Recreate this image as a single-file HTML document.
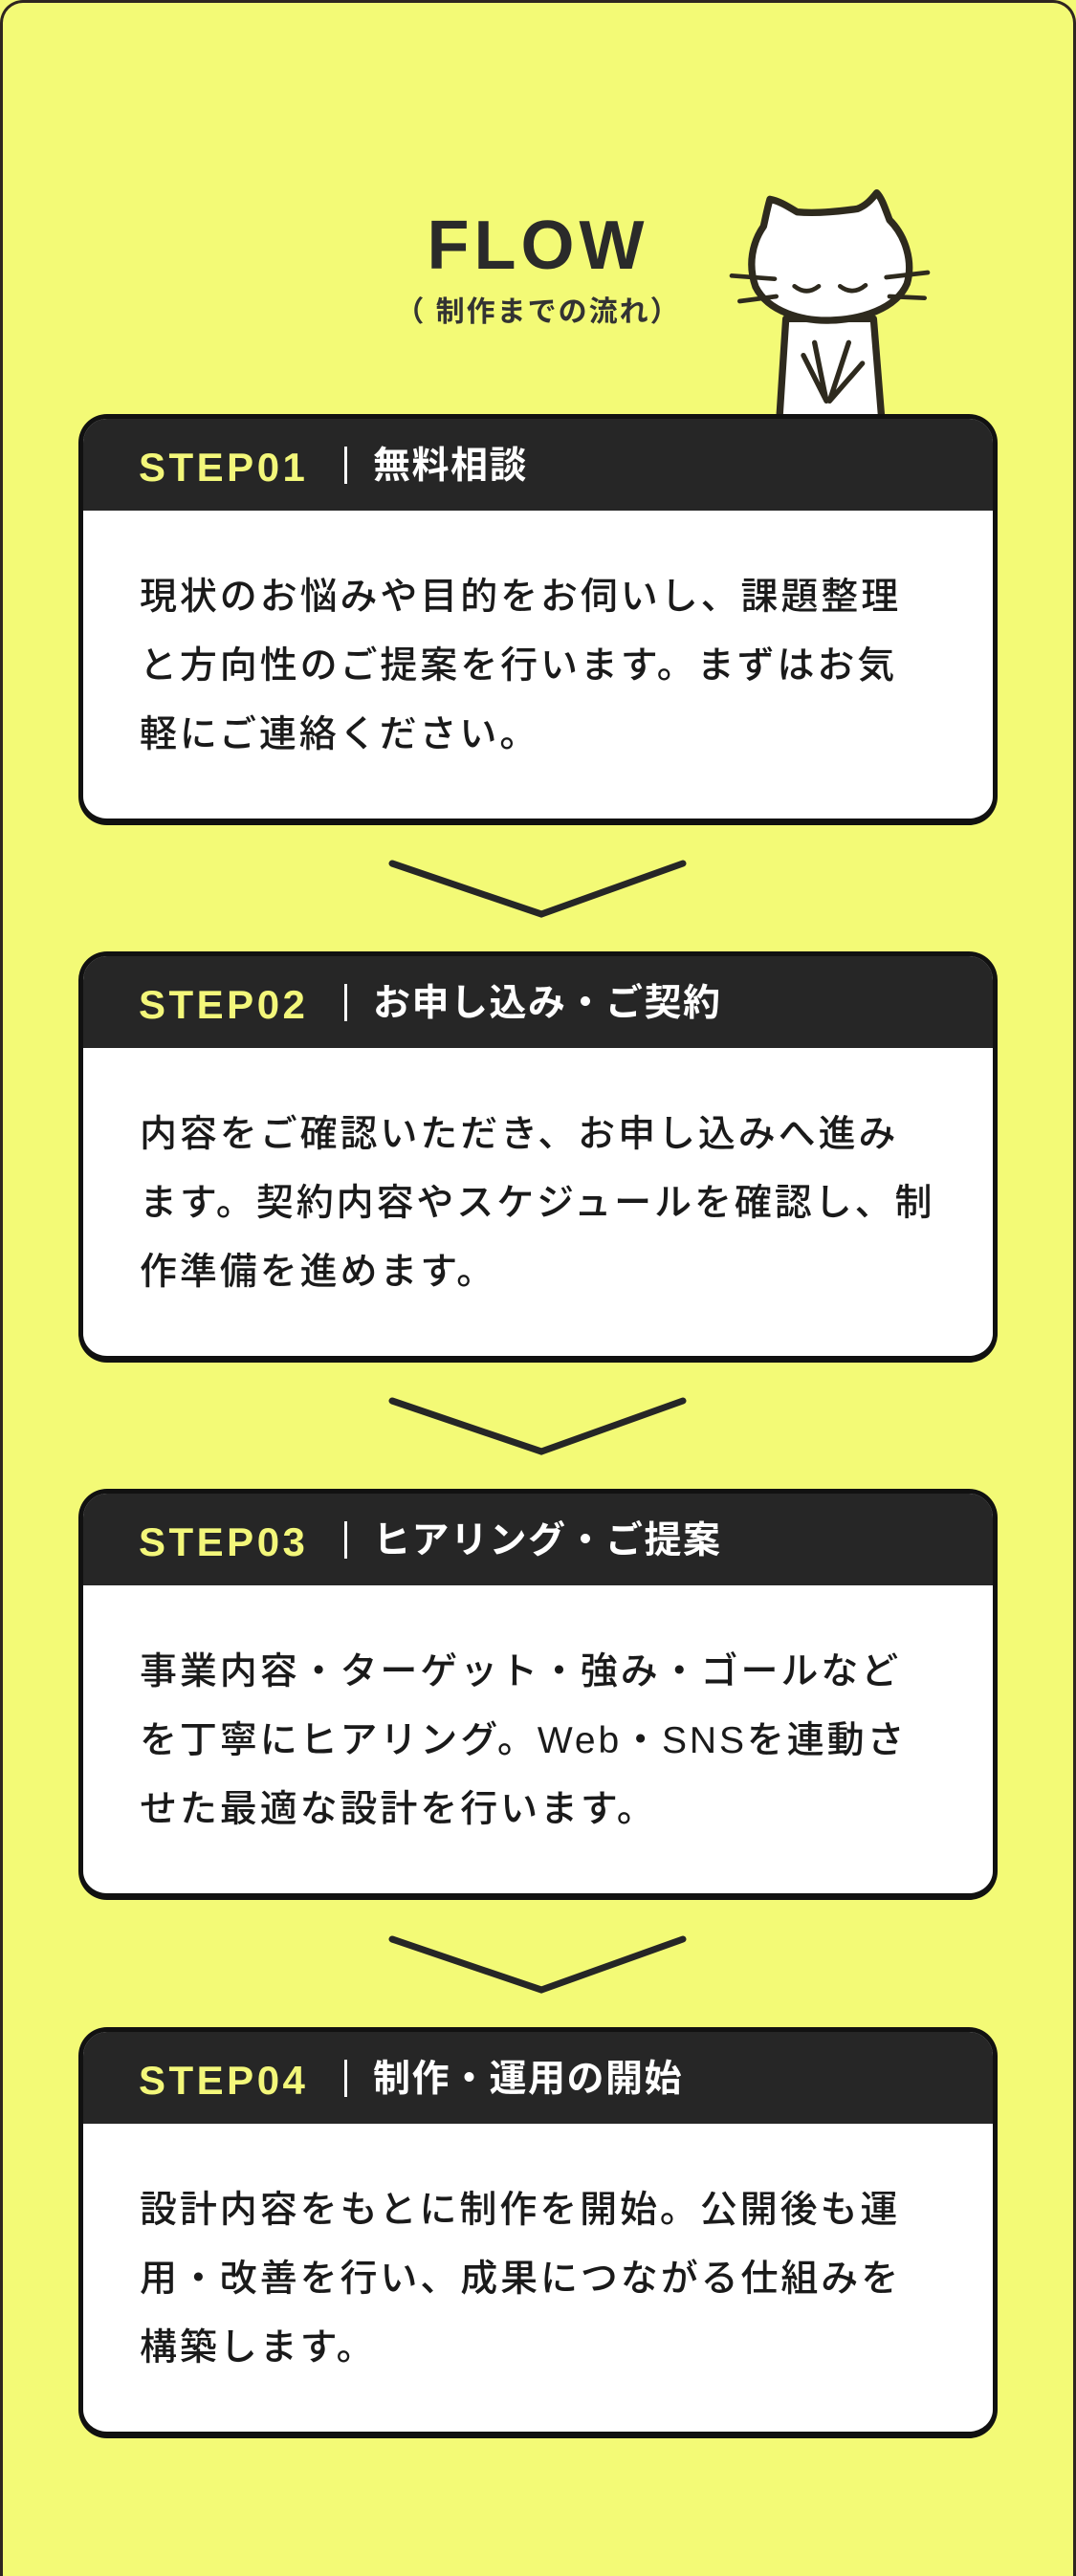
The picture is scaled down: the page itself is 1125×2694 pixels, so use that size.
<!DOCTYPE html>
<html><head><meta charset="utf-8">
<style>
*{margin:0;padding:0;box-sizing:border-box}
html,body{width:1125px;height:2694px;overflow:hidden;background:#f3fa76}
.frame{position:absolute;left:0;top:0;width:1125px;height:2694px;border:3px solid #2e2520;border-bottom:none;border-radius:24px 24px 0 0;background:#f3fa76}
.flow{position:absolute;left:0;width:1125px;top:212px;text-align:center;font-family:"Liberation Sans",sans-serif;font-weight:700;font-size:72px;letter-spacing:5px;color:#2a2a2a;line-height:90px}
.sub{position:absolute;left:0;width:1125px;top:305px;text-align:center;font-family:"Liberation Sans","Noto Sans CJK JP",sans-serif;font-weight:700;font-size:30px;color:#333;line-height:44px;letter-spacing:2px}
.card{position:absolute;left:82px;width:961px;height:430px;background:#fff;border:5px solid #111;border-bottom-width:7px;border-radius:30px;overflow:hidden}
.hd{position:absolute;left:0;top:0;right:0;height:96px;background:#262626}
.step{position:absolute;left:58px;top:26px;font-family:"Liberation Sans",sans-serif;font-weight:700;font-size:42px;letter-spacing:3.5px;color:#f3f77a;line-height:50px}
.bar{position:absolute;left:273px;top:29px;width:3px;height:39px;background:#fff}
.ttl{position:absolute;left:303px;top:22px;font-family:"Liberation Sans","Noto Sans CJK JP",sans-serif;font-weight:700;font-size:39px;letter-spacing:1.5px;color:#fff;line-height:56px;white-space:nowrap}
.bd{position:absolute;left:59px;top:151px;font-family:"Liberation Sans","Noto Sans CJK JP",sans-serif;font-weight:500;font-size:39px;letter-spacing:2.9px;line-height:72px;color:#1a1a1a;white-space:nowrap}
.chev{position:absolute;left:400px;width:330px;height:70px}
</style></head><body>
<div class="frame"></div>
<div class="flow">FLOW</div>
<div class="sub">（ 制作までの流れ）</div>

<svg style="position:absolute;left:740px;top:180px" width="260" height="260" viewBox="0 0 780 780">
<g stroke="#2e2a1e" stroke-width="22" stroke-linecap="round" stroke-linejoin="round">
<path d="M245 460 L225 770 L545 770 L520 460 Z" fill="#fff"/>
<path d="M195 85 C185 120 182 140 175 170 C140 220 125 290 150 360 C190 440 300 468 385 465 C480 462 590 430 625 350 C645 280 620 200 570 150 C555 110 545 80 530 65 C510 90 495 105 470 115 C400 125 330 130 280 125 C255 110 225 90 195 85 Z" fill="#fff"/>
<path d="M75 325 L210 335 M100 405 L215 390 M560 330 L690 315 M570 390 L680 395" fill="none" stroke-width="14"/>
<path d="M272 358 Q310 388 348 358 M415 358 Q455 388 495 355" fill="none" stroke-width="14"/>
<path d="M300 575 L372 718 L335 535 M442 535 L382 718 L485 600" fill="none" stroke-width="16"/>
</g>
</svg>

<div class="card" style="top:433px"><div class="hd"><div class="step">STEP01</div><div class="bar"></div><div class="ttl">無料相談</div></div>
<div class="bd">現状のお悩みや目的をお伺いし、課題整理<br>と方向性のご提案を行います。まずはお気<br>軽にご連絡ください。</div></div>

<svg class="chev" style="top:895px" viewBox="400 895 330 70"><polyline points="410,903 566,956 714,903" fill="none" stroke="#262626" stroke-width="7" stroke-linecap="round"/></svg>

<div class="card" style="top:995px"><div class="hd"><div class="step">STEP02</div><div class="bar"></div><div class="ttl">お申し込み・ご契約</div></div>
<div class="bd">内容をご確認いただき、お申し込みへ進み<br>ます。契約内容やスケジュールを確認し、制<br>作準備を進めます。</div></div>

<svg class="chev" style="top:1457px" viewBox="400 895 330 70"><polyline points="410,903 566,956 714,903" fill="none" stroke="#262626" stroke-width="7" stroke-linecap="round"/></svg>

<div class="card" style="top:1557px"><div class="hd"><div class="step">STEP03</div><div class="bar"></div><div class="ttl">ヒアリング・ご提案</div></div>
<div class="bd">事業内容・ターゲット・強み・ゴールなど<br>を丁寧にヒアリング。Web・SNSを連動さ<br>せた最適な設計を行います。</div></div>

<svg class="chev" style="top:2020px" viewBox="400 895 330 70"><polyline points="410,903 566,956 714,903" fill="none" stroke="#262626" stroke-width="7" stroke-linecap="round"/></svg>

<div class="card" style="top:2120px"><div class="hd"><div class="step">STEP04</div><div class="bar"></div><div class="ttl">制作・運用の開始</div></div>
<div class="bd">設計内容をもとに制作を開始。公開後も運<br>用・改善を行い、成果につながる仕組みを<br>構築します。</div></div>
</body></html>
